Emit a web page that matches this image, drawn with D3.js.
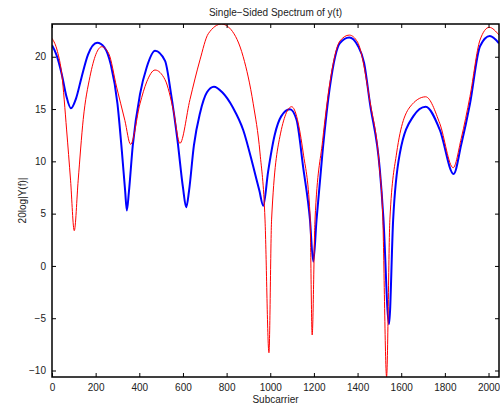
<!DOCTYPE html>
<html>
<head>
<meta charset="utf-8">
<script src="https://cdn.jsdelivr.net/npm/d3@7"></script>
<style>
  body { margin: 0; background: #fff; }
  text { font-family: "Liberation Sans", Arial, sans-serif; }
</style>
</head>
<body>
<div id="chart"></div>
<script>
const svgWidth = 500
const svgHeight = 405

let margin = { top: 24, right: 1, bottom: 28, left: 52 }
let width = svgWidth - margin.left - margin.right
let height = svgHeight - margin.top - margin.bottom

// data: subcarrier index and level in dB
const blueX = [0, 20, 45, 65, 87, 110, 135, 165, 207, 240, 270, 300, 320, 335, 343, 352, 370, 403, 434, 472,
  518, 545, 575, 600, 615, 628, 650, 678, 710, 742, 780, 830, 876, 922, 950, 968, 990, 1020, 1050, 1090,
  1120, 1151, 1182, 1197, 1212, 1240, 1273, 1319, 1362, 1400, 1430, 1457, 1502, 1518, 1544, 1563, 1594,
  1655, 1712, 1777, 1840, 1875, 1915, 1961, 2006, 2048]
const blueY = [21.1, 20.2, 18.3, 16.3, 15.07, 16.0, 18.0, 20.2, 21.34, 20.9, 19.2, 15.5, 11.0, 7.2, 5.3, 7.0, 11.5, 16.4, 19.0, 20.57,
  19.6, 16.5, 12.0, 7.5, 5.6, 7.2, 11.5, 14.6, 16.6, 17.13, 16.6, 15.1, 13.0, 9.5, 7.2, 5.76, 9.0, 12.5, 14.3, 14.97,
  14.0, 9.4, 4.4, 0.4, 4.4, 11.0, 17.1, 21.3, 21.85, 21.1, 19.4, 15.5, 9.2, 4.7, -5.56, 4.4, 10.8,
  14.3, 15.22, 13.0, 8.79, 11.6, 15.5, 21.0, 21.98, 21.28]

const redX = [0, 25, 45, 67, 85, 102, 120, 143, 174, 228, 260, 296, 334, 360, 403, 434, 472, 518, 556, 586,
  632, 678, 716, 777, 820, 876, 922, 953, 976, 994, 1006, 1044, 1098, 1151, 1182, 1192, 1205, 1240, 1273,
  1319, 1362, 1400, 1457, 1500, 1515, 1533, 1548, 1579, 1640, 1712, 1777, 1838, 1875, 1915, 1961, 2003, 2048]
const redY = [21.76, 20.5, 18.3, 13.0, 8.2, 3.37, 8.2, 14.0, 18.1, 20.96, 20.3, 17.1, 13.9, 11.63, 15.5, 17.6, 18.73, 17.8, 14.9, 11.72,
  15.9, 19.7, 22.2, 23.13, 22.6, 20.0, 15.5, 10.8, 4.4, -8.3, 4.4, 12.35, 15.22, 10.8, 5.0, -6.6, 4.4, 12.0, 17.5,
  21.5, 22.07, 21.4, 15.7, 9.5, 5.0, -10.6, 4.4, 10.8, 15.2, 16.17, 13.6, 9.39, 12.2, 16.2, 21.6, 22.81, 22.07]

const xTicks = [0, 200, 400, 600, 800, 1000, 1200, 1400, 1600, 1800, 2000]
const yTicks = [-10, -5, 0, 5, 10, 15, 20]

let svg = d3.select("#chart")
  .append("svg")
  .attr("width", svgWidth)
  .attr("height", svgHeight)

let chartGroup = svg.append("g")
  .attr("transform", `translate(${margin.left}, ${margin.top})`)

let x = d3.scaleLinear().domain([0, 2048]).range([0, width])
let y = d3.scaleLinear().domain([-10.62, 23.13]).range([height, 0])

chartGroup.append("clipPath")
  .attr("id", "clip")
  .append("rect")
  .attr("width", width)
  .attr("height", height)

let line = d3.line()
  .x(d => x(d[0]))
  .y(d => y(d[1]))
  .curve(d3.curveMonotoneX)

let plot = chartGroup.append("g").attr("clip-path", "url(#clip)")

plot.append("path")
  .datum(blueX.map((v, i) => [v, blueY[i]]))
  .attr("fill", "none")
  .attr("stroke", "#0000ff")
  .attr("stroke-width", 2)
  .attr("d", line)

plot.append("path")
  .datum(redX.map((v, i) => [v, redY[i]]))
  .attr("fill", "none")
  .attr("stroke", "#ff0000")
  .attr("stroke-width", 1)
  .attr("d", line)

// axes, matlab style: ticks pointing inward on all four sides
function styleAxis(g) {
  g.selectAll(".domain").remove()
  g.selectAll("line").attr("stroke", "#000")
  g.selectAll("text").attr("font-size", 10).attr("fill", "#222")
}

chartGroup.append("g")
  .attr("transform", `translate(0, ${height})`)
  .call(d3.axisBottom(x).tickValues(xTicks).tickSize(-4).tickPadding(6.5).tickFormat(d3.format("d")))
  .call(styleAxis)

chartGroup.append("g")
  .call(d3.axisTop(x).tickValues(xTicks).tickSize(-4).tickFormat(""))
  .call(styleAxis)

chartGroup.append("g")
  .call(d3.axisLeft(y).tickValues(yTicks).tickSize(-4).tickPadding(6))
  .call(styleAxis)

chartGroup.append("g")
  .attr("transform", `translate(${width}, 0)`)
  .call(d3.axisRight(y).tickValues(yTicks).tickSize(-4).tickFormat(""))
  .call(styleAxis)

chartGroup.append("rect")
  .attr("width", width)
  .attr("height", height)
  .attr("fill", "none")
  .attr("stroke", "#000")
  .attr("stroke-width", 1.5)

chartGroup.append("text")
  .attr("x", width / 2)
  .attr("y", -8)
  .attr("text-anchor", "middle")
  .attr("font-size", 10)
  .attr("fill", "#222")
  .text("Single\u2212Sided Spectrum of y(t)")

chartGroup.append("text")
  .attr("x", width / 2)
  .attr("y", height + 25.5)
  .attr("text-anchor", "middle")
  .attr("font-size", 10)
  .attr("fill", "#222")
  .text("Subcarrier")

chartGroup.append("text")
  .attr("transform", `translate(-26, ${height / 2}) rotate(-90)`)
  .attr("text-anchor", "middle")
  .attr("font-size", 10)
  .attr("fill", "#222")
  .text("20log|Y(f)|")
</script>
</body>
</html>
